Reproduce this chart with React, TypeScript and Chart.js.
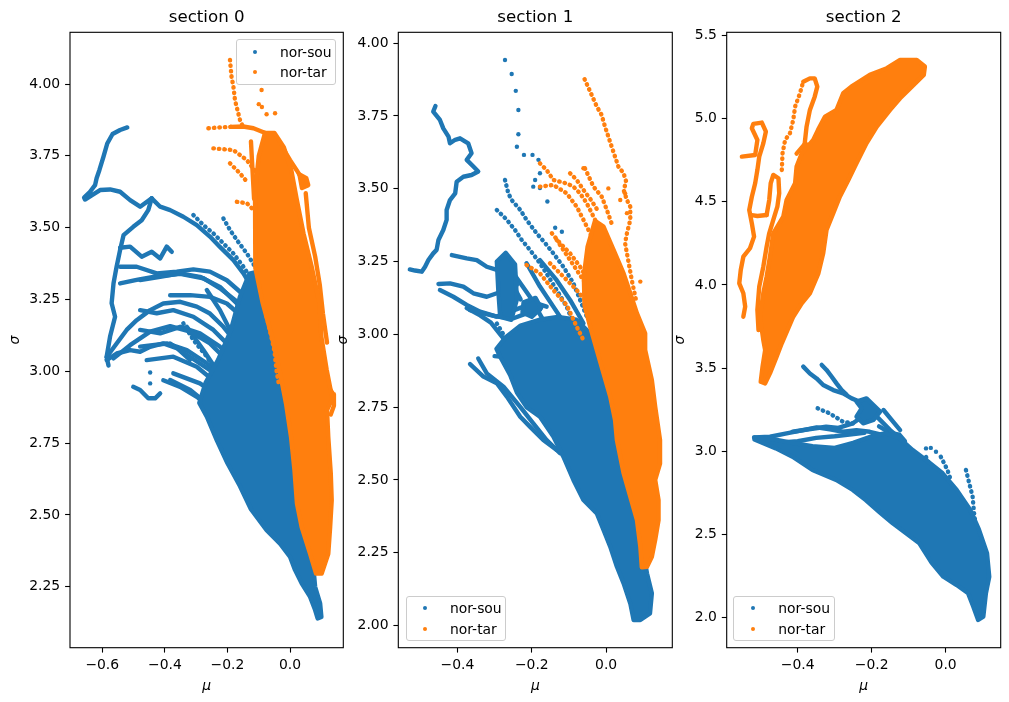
import { useEffect, useRef } from 'react';
import Chart from 'chart.js/auto';

type Pt = [number, number];
type Group = { clouds: Pt[][]; trails: Pt[][]; dotted: Pt[][]; dots: Pt[] };

const SERIES = ['nor-sou', 'nor-tar'];
const COLORS = ['#1f77b4', '#ff7f0e'];
const TITLES = ['section 0', 'section 1', 'section 2'];

const X_TICKS_0 = [-0.6, -0.4, -0.2, 0.0];
const Y_TICKS_0 = [2.25, 2.5, 2.75, 3.0, 3.25, 3.5, 3.75, 4.0];
const X_TICKS_1 = [-0.4, -0.2, 0.0];
const Y_TICKS_1 = [2.0, 2.25, 2.5, 2.75, 3.0, 3.25, 3.5, 3.75, 4.0];
const X_TICKS_2 = [-0.4, -0.2, 0.0];
const Y_TICKS_2 = [2.0, 2.5, 3.0, 3.5, 4.0, 4.5, 5.0, 5.5];

// ---------- section 0 ----------
const sec0SouClouds: Pt[][] = [
  [[-0.05, 3.30], [-0.09, 3.35], [-0.13, 3.34], [-0.16, 3.26], [-0.19, 3.14], [-0.23, 3.04], [-0.27, 2.96], [-0.29, 2.89], [-0.266, 2.842], [-0.234, 2.760], [-0.200, 2.680], [-0.160, 2.600], [-0.125, 2.520], [-0.075, 2.447], [-0.032, 2.400], [0.0, 2.354], [0.016, 2.308], [0.037, 2.262], [0.064, 2.215], [0.080, 2.169], [0.088, 2.140], [0.100, 2.145], [0.096, 2.192], [0.080, 2.250], [0.075, 2.310], [0.060, 2.450], [0.030, 2.700], [0.0, 2.950], [-0.030, 3.150]],
];
const sec0SouTrails: Pt[][] = [
  [[-0.520, 3.849], [-0.543, 3.840], [-0.567, 3.826], [-0.584, 3.793], [-0.596, 3.747], [-0.609, 3.701], [-0.618, 3.672], [-0.623, 3.648], [-0.639, 3.625], [-0.658, 3.605], [-0.655, 3.598], [-0.630, 3.615], [-0.607, 3.631], [-0.575, 3.633], [-0.543, 3.625], [-0.511, 3.596], [-0.479, 3.573], [-0.442, 3.602]],
  [[-0.442, 3.602], [-0.415, 3.573], [-0.383, 3.561], [-0.341, 3.538], [-0.298, 3.509], [-0.256, 3.469], [-0.224, 3.433], [-0.181, 3.387], [-0.149, 3.341], [-0.117, 3.283], [-0.090, 3.225], [-0.064, 3.155]],
  [[-0.442, 3.602], [-0.453, 3.561], [-0.474, 3.526], [-0.501, 3.503], [-0.532, 3.474], [-0.543, 3.422], [-0.554, 3.365], [-0.564, 3.306], [-0.570, 3.237], [-0.559, 3.190], [-0.575, 3.121], [-0.586, 3.050], [-0.580, 3.020]],
  [[-0.543, 3.430], [-0.511, 3.434], [-0.474, 3.399], [-0.442, 3.416], [-0.415, 3.393], [-0.394, 3.434], [-0.378, 3.416]],
  [[-0.543, 3.364], [-0.490, 3.364], [-0.426, 3.341], [-0.362, 3.347], [-0.309, 3.355], [-0.256, 3.347], [-0.202, 3.317], [-0.160, 3.277], [-0.128, 3.225], [-0.096, 3.155], [-0.075, 3.097]],
  [[-0.543, 3.306], [-0.490, 3.318], [-0.437, 3.329], [-0.351, 3.339], [-0.277, 3.324], [-0.224, 3.289], [-0.170, 3.243], [-0.128, 3.185], [-0.085, 3.109]],
  [[-0.383, 3.265], [-0.319, 3.265], [-0.256, 3.259], [-0.202, 3.236], [-0.160, 3.196], [-0.117, 3.132], [-0.085, 3.062]],
  [[-0.586, 3.050], [-0.554, 3.097], [-0.522, 3.144], [-0.490, 3.178], [-0.447, 3.213], [-0.405, 3.236], [-0.351, 3.242], [-0.298, 3.225], [-0.256, 3.201], [-0.213, 3.155], [-0.170, 3.097], [-0.128, 3.028], [-0.096, 2.958]],
  [[-0.564, 3.045], [-0.511, 3.091], [-0.447, 3.138], [-0.383, 3.157], [-0.319, 3.138], [-0.256, 3.097], [-0.202, 3.039], [-0.160, 2.981], [-0.122, 2.912]],
  [[-0.383, 3.097], [-0.319, 3.050], [-0.256, 3.004], [-0.213, 2.946], [-0.180, 2.890]],
  [[-0.330, 3.155], [-0.277, 3.074], [-0.234, 3.004], [-0.202, 2.935], [-0.170, 2.877]],
  [[-0.586, 3.039], [-0.554, 3.062], [-0.511, 3.074], [-0.479, 3.068], [-0.447, 3.085], [-0.405, 3.097], [-0.360, 3.080], [-0.320, 3.040]],
  [[-0.405, 2.969], [-0.351, 2.946], [-0.298, 2.911], [-0.245, 2.865], [-0.202, 2.807], [-0.160, 2.726], [-0.128, 2.645], [-0.096, 2.575]],
  [[-0.373, 2.993], [-0.288, 2.958], [-0.224, 2.911], [-0.160, 2.842], [-0.117, 2.761], [-0.075, 2.679], [-0.043, 2.587], [-0.011, 2.505]],
  [[-0.501, 2.946], [-0.479, 2.935], [-0.453, 2.906], [-0.431, 2.906], [-0.415, 2.923]],
  [[-0.479, 3.318], [-0.415, 3.329], [-0.351, 3.341], [-0.288, 3.329], [-0.224, 3.294], [-0.170, 3.236], [-0.128, 3.167], [-0.096, 3.086]],
  [[-0.479, 3.213], [-0.426, 3.202], [-0.373, 3.213], [-0.309, 3.190], [-0.245, 3.144], [-0.192, 3.086], [-0.149, 3.016], [-0.117, 2.947]],
  [[-0.479, 3.144], [-0.415, 3.132], [-0.351, 3.155], [-0.288, 3.132], [-0.224, 3.086], [-0.170, 3.016], [-0.128, 2.935], [-0.096, 2.853]],
  [[-0.479, 3.086], [-0.394, 3.097], [-0.330, 3.074], [-0.266, 3.028], [-0.213, 2.970], [-0.170, 2.900], [-0.138, 2.831], [-0.117, 2.750]],
  [[-0.458, 3.039], [-0.373, 3.051], [-0.298, 3.016], [-0.234, 2.958], [-0.192, 2.888], [-0.160, 2.807], [-0.138, 2.726]],
  [[-0.383, 2.970], [-0.319, 2.935], [-0.266, 2.888], [-0.224, 2.819], [-0.192, 2.749], [-0.170, 2.679], [-0.149, 2.610]],
  [[-0.266, 3.283], [-0.224, 3.213], [-0.181, 3.120], [-0.149, 3.028], [-0.128, 2.947]],
];
const sec0SouDotted: Pt[][] = [
  [[-0.309, 3.544], [-0.277, 3.509], [-0.245, 3.480], [-0.213, 3.445], [-0.181, 3.410], [-0.149, 3.364], [-0.122, 3.318]],
  [[-0.213, 3.532], [-0.192, 3.492], [-0.170, 3.457], [-0.138, 3.410], [-0.112, 3.364], [-0.090, 3.306], [-0.075, 3.248]],
  [[-0.341, 3.167], [-0.309, 3.109], [-0.266, 3.051], [-0.224, 2.981], [-0.192, 2.912]],
];
const sec0SouDots: Pt[] = [[-0.447, 2.996], [-0.447, 2.958]];

const sec0TarClouds: Pt[][] = [
  [[-0.08, 3.83], [-0.10, 3.75], [-0.112, 3.62], [-0.112, 3.48], [-0.110, 3.36], [-0.088, 3.24], [-0.058, 3.12], [-0.034, 3.005], [-0.013, 2.888], [0.003, 2.772], [0.014, 2.656], [0.022, 2.540], [0.037, 2.458], [0.064, 2.365], [0.083, 2.296], [0.101, 2.296], [0.122, 2.365], [0.128, 2.458], [0.133, 2.551], [0.130, 2.645], [0.122, 2.772], [0.118, 2.865], [0.135, 2.905], [0.117, 3.005], [0.100, 3.120], [0.094, 3.236], [0.069, 3.364], [0.043, 3.480], [0.021, 3.600], [0.004, 3.700], [-0.020, 3.780], [-0.050, 3.830]],
  [[0.030, 3.685], [0.052, 3.672], [0.058, 3.648], [0.038, 3.638]],
];
const sec0TarTrails: Pt[][] = [
  [[-0.190, 3.851], [-0.150, 3.852], [-0.117, 3.846], [-0.075, 3.828], [-0.032, 3.793], [0.0, 3.735], [0.021, 3.700], [0.040, 3.666]],
  [[-0.125, 3.80], [-0.120, 3.70], [-0.115, 3.60]],
  [[0.050, 3.62], [0.060, 3.50], [0.080, 3.40], [0.095, 3.30], [0.105, 3.20], [0.118, 3.10]],
  [[0.120, 2.95], [0.138, 2.92], [0.140, 2.88], [0.130, 2.85]],
];
const sec0TarDotted: Pt[][] = [
  [[-0.261, 3.846], [-0.225, 3.849], [-0.190, 3.851]],
  [[-0.192, 4.084], [-0.190, 4.060], [-0.187, 4.025], [-0.181, 3.991], [-0.176, 3.944], [-0.168, 3.909], [-0.160, 3.875], [-0.150, 3.850]],
  [[-0.245, 3.776], [-0.181, 3.770], [-0.138, 3.735], [-0.106, 3.689], [-0.075, 3.643], [-0.043, 3.596]],
  [[-0.192, 3.724], [-0.160, 3.689], [-0.138, 3.660]],
  [[-0.170, 3.590], [-0.138, 3.585], [-0.106, 3.550], [-0.075, 3.480]],
  [[-0.075, 3.190], [-0.060, 3.120], [-0.050, 3.070], [-0.043, 3.000], [-0.035, 2.950]],
];
const sec0TarDots: Pt[] = [[-0.091, 3.979], [-0.090, 3.920], [-0.075, 3.895], [-0.048, 3.898], [-0.100, 3.930]];

// ---------- section 1 ----------
const sec1SouClouds: Pt[][] = [
  [[-0.040, 3.000], [-0.080, 3.050], [-0.130, 3.060], [-0.180, 3.050], [-0.230, 3.030], [-0.270, 2.990], [-0.295, 2.950], [-0.285, 2.923], [-0.258, 2.860], [-0.240, 2.800], [-0.214, 2.750], [-0.178, 2.717], [-0.142, 2.649], [-0.115, 2.580], [-0.088, 2.500], [-0.061, 2.431], [-0.025, 2.385], [-0.007, 2.328], [0.011, 2.271], [0.029, 2.202], [0.047, 2.145], [0.065, 2.076], [0.074, 2.019], [0.092, 2.019], [0.118, 2.042], [0.123, 2.111], [0.110, 2.179], [0.100, 2.248], [0.092, 2.408], [0.056, 2.637], [0.002, 2.866]],
  [[-0.294, 3.250], [-0.270, 3.280], [-0.245, 3.240], [-0.240, 3.120], [-0.255, 3.050], [-0.285, 3.060], [-0.290, 3.150]],
  [[-0.222, 3.110], [-0.190, 3.125], [-0.175, 3.090], [-0.200, 3.060], [-0.225, 3.075]],
];
const sec1SouTrails: Pt[][] = [
  [[-0.459, 3.784], [-0.465, 3.765], [-0.447, 3.736], [-0.438, 3.707], [-0.424, 3.679], [-0.420, 3.656], [-0.406, 3.668], [-0.393, 3.673], [-0.371, 3.656], [-0.362, 3.622], [-0.375, 3.599], [-0.357, 3.576], [-0.344, 3.559], [-0.362, 3.547], [-0.384, 3.541], [-0.402, 3.524], [-0.406, 3.484], [-0.420, 3.461], [-0.429, 3.427], [-0.429, 3.393], [-0.438, 3.358], [-0.451, 3.324], [-0.456, 3.290], [-0.465, 3.278], [-0.478, 3.255], [-0.487, 3.232], [-0.496, 3.215], [-0.514, 3.219], [-0.528, 3.223]],
  [[-0.415, 3.272], [-0.375, 3.261], [-0.348, 3.255], [-0.321, 3.232], [-0.294, 3.221], [-0.281, 3.244], [-0.260, 3.200], [-0.240, 3.170]],
  [[-0.451, 3.173], [-0.420, 3.175], [-0.384, 3.164], [-0.357, 3.141], [-0.321, 3.129], [-0.294, 3.141], [-0.267, 3.152], [-0.249, 3.164], [-0.230, 3.120]],
  [[-0.447, 3.152], [-0.411, 3.129], [-0.375, 3.101], [-0.339, 3.078], [-0.294, 3.061], [-0.249, 3.055], [-0.214, 3.072], [-0.178, 3.084]],
  [[-0.375, 3.090], [-0.339, 3.065], [-0.310, 3.040], [-0.285, 3.000], [-0.260, 2.960], [-0.230, 2.920]],
  [[-0.366, 2.898], [-0.330, 2.855], [-0.294, 2.832], [-0.267, 2.786], [-0.231, 2.717], [-0.205, 2.683], [-0.169, 2.637], [-0.133, 2.603]],
  [[-0.344, 2.917], [-0.321, 2.866], [-0.276, 2.820], [-0.231, 2.751], [-0.196, 2.694], [-0.160, 2.637], [-0.124, 2.592]],
  [[-0.300, 2.925], [-0.260, 2.920], [-0.220, 2.930]],
  [[-0.366, 3.083], [-0.330, 3.072], [-0.294, 3.061], [-0.258, 3.078], [-0.222, 3.095], [-0.187, 3.106], [-0.160, 3.095]],
  [[-0.178, 3.255], [-0.133, 3.186], [-0.097, 3.118], [-0.061, 3.038]],
  [[-0.214, 3.244], [-0.178, 3.164], [-0.142, 3.095], [-0.106, 3.026]],
  [[-0.249, 3.209], [-0.205, 3.129], [-0.169, 3.049], [-0.133, 2.980]],
];
const sec1SouDotted: Pt[][] = [
  [[-0.272, 3.530], [-0.263, 3.484], [-0.254, 3.461], [-0.231, 3.427], [-0.214, 3.393], [-0.187, 3.347], [-0.164, 3.313], [-0.142, 3.278], [-0.115, 3.232], [-0.088, 3.175], [-0.070, 3.118], [-0.052, 3.061]],
  [[-0.294, 3.427], [-0.267, 3.393], [-0.245, 3.358], [-0.227, 3.324], [-0.205, 3.290], [-0.178, 3.244], [-0.155, 3.198], [-0.133, 3.152], [-0.106, 3.095], [-0.088, 3.038]],
  [[-0.294, 3.037], [-0.267, 2.980], [-0.240, 2.923], [-0.214, 2.866], [-0.187, 2.820], [-0.160, 2.774]],
];
const sec1SouDots: Pt[] = [[-0.272, 3.942], [-0.254, 3.894], [-0.243, 3.836], [-0.236, 3.770], [-0.236, 3.687], [-0.240, 3.644], [-0.221, 3.616], [-0.198, 3.616], [-0.182, 3.599], [-0.178, 3.553], [-0.191, 3.530], [-0.196, 3.507], [-0.178, 3.502], [-0.158, 3.456], [-0.137, 3.366], [-0.119, 3.352]];

const sec1TarClouds: Pt[][] = [
  [[-0.030, 3.390], [-0.007, 3.370], [0.020, 3.290], [0.047, 3.209], [0.065, 3.141], [0.083, 3.072], [0.105, 3.003], [0.105, 2.946], [0.123, 2.843], [0.132, 2.751], [0.145, 2.637], [0.145, 2.556], [0.132, 2.500], [0.141, 2.431], [0.141, 2.362], [0.132, 2.294], [0.123, 2.236], [0.110, 2.202], [0.096, 2.200], [0.092, 2.271], [0.083, 2.362], [0.065, 2.443], [0.047, 2.523], [0.029, 2.637], [0.024, 2.706], [0.011, 2.786], [-0.007, 2.866], [-0.025, 2.946], [-0.043, 3.026], [-0.058, 3.100], [-0.060, 3.200], [-0.050, 3.300]],
];
const sec1TarTrails: Pt[][] = [];
const sec1TarDotted: Pt[][] = [
  [[-0.058, 3.876], [-0.048, 3.848], [-0.039, 3.822], [-0.025, 3.782], [-0.012, 3.753], [-0.003, 3.713], [0.006, 3.679], [0.015, 3.644], [0.024, 3.610], [0.033, 3.576], [0.047, 3.553], [0.054, 3.524], [0.047, 3.496], [0.056, 3.461], [0.065, 3.438], [0.065, 3.393], [0.056, 3.347], [0.051, 3.313], [0.060, 3.250], [0.070, 3.180], [0.080, 3.120]],
  [[-0.178, 3.587], [-0.160, 3.564], [-0.142, 3.530], [-0.124, 3.524], [-0.106, 3.518], [-0.088, 3.507], [-0.070, 3.484], [-0.052, 3.450], [-0.034, 3.404], [-0.016, 3.358], [0.002, 3.301], [0.020, 3.244], [0.038, 3.175]],
  [[-0.178, 3.507], [-0.142, 3.513], [-0.106, 3.484], [-0.079, 3.438], [-0.061, 3.393], [-0.043, 3.347], [-0.025, 3.301], [-0.007, 3.244], [0.002, 3.187]],
  [[-0.097, 3.553], [-0.079, 3.530], [-0.061, 3.496], [-0.040, 3.460], [-0.020, 3.420]],
  [[-0.057, 3.570], [-0.034, 3.507], [-0.012, 3.473], [0.002, 3.427], [0.015, 3.380]],
  [[-0.214, 3.238], [-0.178, 3.209], [-0.142, 3.152], [-0.106, 3.100], [-0.079, 3.026], [-0.061, 2.980]],
  [[-0.146, 3.347], [-0.124, 3.313], [-0.097, 3.278], [-0.070, 3.232], [-0.043, 3.175], [-0.025, 3.118]],
  [[-0.151, 3.244], [-0.115, 3.198], [-0.079, 3.152], [-0.043, 3.095], [-0.025, 3.049]],
  [[-0.133, 3.324], [-0.097, 3.255], [-0.061, 3.186], [-0.034, 3.118]],
];
const sec1TarDots: Pt[] = [[-0.061, 3.570], [0.006, 3.501], [0.051, 3.484], [0.038, 3.461], [0.056, 3.416], [0.092, 3.181]];

// ---------- section 2 ----------
const sec2SouClouds: Pt[][] = [
  [[-0.517, 3.083], [-0.460, 3.070], [-0.414, 3.050], [-0.360, 3.030], [-0.300, 3.020], [-0.250, 3.050], [-0.200, 3.090], [-0.162, 3.108], [-0.125, 3.078], [-0.089, 3.007], [-0.053, 2.947], [-0.008, 2.867], [0.030, 2.767], [0.066, 2.650], [0.090, 2.530], [0.112, 2.386], [0.118, 2.245], [0.109, 2.145], [0.102, 2.005], [0.088, 1.985], [0.075, 2.065], [0.061, 2.145], [0.030, 2.195], [-0.006, 2.245], [-0.038, 2.330], [-0.071, 2.446], [-0.107, 2.506], [-0.143, 2.566], [-0.180, 2.636], [-0.216, 2.706], [-0.251, 2.767], [-0.296, 2.827], [-0.360, 2.887], [-0.414, 2.967], [-0.459, 3.017], [-0.517, 3.071]],
  [[-0.241, 3.298], [-0.214, 3.318], [-0.191, 3.268], [-0.177, 3.238], [-0.195, 3.188], [-0.223, 3.168], [-0.241, 3.208], [-0.227, 3.258]],
];
const sec2SouTrails: Pt[][] = [
  [[-0.385, 3.509], [-0.367, 3.468], [-0.349, 3.438], [-0.331, 3.398], [-0.304, 3.368], [-0.277, 3.348], [-0.254, 3.318], [-0.232, 3.298]],
  [[-0.335, 3.519], [-0.322, 3.489], [-0.308, 3.448], [-0.295, 3.408], [-0.281, 3.368], [-0.268, 3.340]],
  [[-0.186, 3.208], [-0.150, 3.127], [-0.123, 3.077], [-0.105, 3.027]],
  [[-0.168, 3.248], [-0.146, 3.188], [-0.123, 3.127]],
  [[-0.518, 3.083], [-0.475, 3.087], [-0.430, 3.107], [-0.385, 3.127], [-0.349, 3.143], [-0.313, 3.131], [-0.277, 3.117], [-0.241, 3.127], [-0.205, 3.117], [-0.168, 3.097], [-0.132, 3.067]],
  [[-0.414, 3.117], [-0.370, 3.132], [-0.323, 3.147], [-0.290, 3.140], [-0.251, 3.168], [-0.230, 3.200]],
  [[-0.460, 3.050], [-0.400, 3.060], [-0.350, 3.080], [-0.300, 3.090], [-0.260, 3.100], [-0.220, 3.110]],
  [[-0.180, 3.150], [-0.150, 3.110], [-0.125, 3.100], [-0.110, 3.060]],
];
const sec2SouDotted: Pt[][] = [
  [[-0.346, 3.258], [-0.314, 3.228], [-0.278, 3.178], [-0.251, 3.168]],
  [[-0.053, 2.965], [-0.040, 2.905], [-0.017, 2.845], [0.001, 2.785], [0.019, 2.705], [0.037, 2.645], [0.055, 2.585], [0.077, 2.505], [0.091, 2.425]],
  [[-0.013, 2.967], [-0.004, 2.927], [0.005, 2.887], [0.015, 2.820]],
  [[0.055, 2.887], [0.064, 2.807], [0.073, 2.727], [0.077, 2.626], [0.082, 2.546]],
];
const sec2SouDots: Pt[] = [[-0.053, 3.017], [-0.026, 2.997], [-0.040, 3.020]];

const sec2TarClouds: Pt[][] = [
  [[-0.500, 3.418], [-0.495, 3.509], [-0.488, 3.609], [-0.493, 3.669], [-0.502, 3.809], [-0.493, 3.950], [-0.484, 4.050], [-0.475, 4.170], [-0.466, 4.311], [-0.439, 4.411], [-0.430, 4.511], [-0.407, 4.612], [-0.403, 4.712], [-0.389, 4.792], [-0.358, 4.872], [-0.345, 4.933], [-0.326, 5.013], [-0.295, 5.053], [-0.277, 5.153], [-0.255, 5.193], [-0.205, 5.264], [-0.159, 5.304], [-0.123, 5.354], [-0.078, 5.354], [-0.056, 5.314], [-0.059, 5.264], [-0.096, 5.183], [-0.123, 5.123], [-0.150, 5.053], [-0.186, 4.953], [-0.214, 4.852], [-0.241, 4.732], [-0.263, 4.632], [-0.286, 4.531], [-0.304, 4.431], [-0.322, 4.331], [-0.331, 4.191], [-0.344, 4.070], [-0.367, 3.950], [-0.389, 3.890], [-0.412, 3.809], [-0.443, 3.649], [-0.457, 3.569], [-0.475, 3.468], [-0.488, 3.408]],
];
const sec2TarTrails: Pt[][] = [
  [[-0.547, 3.809], [-0.542, 3.870], [-0.547, 3.950], [-0.558, 4.010], [-0.554, 4.090], [-0.547, 4.170], [-0.529, 4.221], [-0.518, 4.291], [-0.524, 4.371], [-0.531, 4.451], [-0.524, 4.531], [-0.515, 4.612], [-0.509, 4.692], [-0.504, 4.772], [-0.493, 4.852], [-0.486, 4.923], [-0.497, 4.977], [-0.520, 4.969], [-0.524, 4.943], [-0.509, 4.872], [-0.515, 4.782], [-0.551, 4.772]],
  [[-0.524, 4.420], [-0.509, 4.415], [-0.484, 4.421]],
  [[-0.484, 4.421], [-0.477, 4.511], [-0.473, 4.612], [-0.466, 4.662], [-0.452, 4.642], [-0.450, 4.552], [-0.455, 4.471], [-0.466, 4.391], [-0.477, 4.311], [-0.484, 4.231], [-0.493, 4.110], [-0.504, 3.990], [-0.509, 3.850], [-0.506, 3.729]],
  [[-0.385, 5.223], [-0.367, 5.243], [-0.354, 5.243], [-0.347, 5.193], [-0.354, 5.133], [-0.367, 5.053], [-0.376, 4.953], [-0.380, 4.872], [-0.385, 4.772], [-0.394, 4.712]],
  [[-0.403, 4.790], [-0.380, 4.850], [-0.360, 4.830], [-0.355, 4.780]],
];
const sec2TarDotted: Pt[][] = [
  [[-0.443, 4.692], [-0.441, 4.792], [-0.434, 4.872], [-0.421, 4.913], [-0.412, 4.993], [-0.407, 5.073], [-0.394, 5.153], [-0.385, 5.223]],
];
const sec2TarDots: Pt[] = [];

// ---------- layout of the three panels ----------
const FONT = 'DejaVu Sans';
const PANELS = [
  {
    left: 0, width: 370, yWidth: 70, padRight: 26.7, yTitlePad: 6.7, yDec: 2,
    xMin: -0.703, xMax: 0.17, yMin: 2.038, yMax: 4.18, xTicks: X_TICKS_0, yTicks: Y_TICKS_0,
    sou: { clouds: sec0SouClouds, trails: sec0SouTrails, dotted: sec0SouDotted, dots: sec0SouDots },
    tar: { clouds: sec0TarClouds, trails: sec0TarTrails, dotted: sec0TarDotted, dots: sec0TarDots },
    legend: { left: 235.7, top: 39.3, width: 100.3, height: 45.7, markX: 255.3, textX: 280, rows: [51.7, 72.3] },
  },
  {
    left: 330, width: 360, yWidth: 68.3, padRight: 17.7, yTitlePad: 5.0, yDec: 2,
    xMin: -0.559, xMax: 0.178, yMin: 1.924, yMax: 4.037, xTicks: X_TICKS_1, yTicks: Y_TICKS_1,
    sou: { clouds: sec1SouClouds, trails: sec1SouTrails, dotted: sec1SouDotted, dots: sec1SouDots },
    tar: { clouds: sec1TarClouds, trails: sec1TarTrails, dotted: sec1TarDotted, dots: sec1TarDots },
    legend: { left: 405.7, top: 595.7, width: 100.6, height: 45.3, markX: 425.3, textX: 450, rows: [607.7, 628.7] },
  },
  {
    left: 660, width: 349, yWidth: 66.7, padRight: 8.3, yTitlePad: 12.4, yDec: 1,
    xMin: -0.592, xMax: 0.149, yMin: 1.818, yMax: 5.52, xTicks: X_TICKS_2, yTicks: Y_TICKS_2,
    sou: { clouds: sec2SouClouds, trails: sec2SouTrails, dotted: sec2SouDotted, dots: sec2SouDots },
    tar: { clouds: sec2TarClouds, trails: sec2TarTrails, dotted: sec2TarDotted, dots: sec2TarDots },
    legend: { left: 733.3, top: 595.7, width: 101.7, height: 45.3, markX: 753.3, textX: 778.3, rows: [607.7, 628.7] },
  },
];

const fmt = (v: number, d: number) => (v < -1e-9 ? '\u2212' : '') + Math.abs(v).toFixed(d);
const xy = (pts: Pt[]) => pts.map(([x, y]) => ({ x, y }));
const DOT = 4.4;

function datasetsFor(g: Group, color: string, order: number) {
  const out: any[] = [];
  const line = {
    borderColor: color, backgroundColor: color, borderWidth: DOT, pointRadius: 0,
    borderCapStyle: 'round', borderJoinStyle: 'round', showLine: true, order,
  };
  g.clouds.forEach((c) => out.push({ ...line, data: xy([...c, c[0]]), fill: 'shape' }));
  g.trails.forEach((t) => out.push({ ...line, data: xy(t), fill: false }));
  g.dotted.forEach((t) => out.push({ ...line, data: xy(t), fill: false, borderDash: [0.5, 5] }));
  if (g.dots.length) {
    out.push({ data: xy(g.dots), showLine: false, pointRadius: DOT / 2, pointBorderWidth: 0, backgroundColor: color, borderColor: color, order });
  }
  return out;
}

const framePlugin = {
  id: 'frame',
  afterDatasetsDraw(chart: any) {
    const { ctx, chartArea: a } = chart;
    ctx.save();
    ctx.strokeStyle = '#000';
    ctx.lineWidth = 1.1;
    ctx.strokeRect(a.left, a.top, a.right - a.left, a.bottom - a.top);
    ctx.restore();
  },
};

function Panel({ idx }: { idx: number }) {
  const chartRef = useRef<HTMLCanvasElement>(null);
  const p = PANELS[idx];

  useEffect(() => {
    if (!chartRef.current) return;
    const tickFont = { family: FONT, size: 13.9 };
    const axisTitleFont = { family: FONT, size: 13.9, style: 'italic' as const };
    const grid = { display: true, drawOnChartArea: false, drawTicks: true, tickLength: 4.9, tickWidth: 1.1, tickColor: '#000' };

    const chart = new Chart(chartRef.current, {
      type: 'scatter',
      data: {
        datasets: [...datasetsFor(p.tar, COLORS[1], 1), ...datasetsFor(p.sou, COLORS[0], 2)],
      },
      options: {
        animation: false,
        responsive: false,
        events: [],
        layout: { autoPadding: false, padding: { left: 0, top: 0, bottom: 0, right: p.padRight } },
        plugins: {
          legend: { display: false },
          tooltip: { enabled: false },
          title: {
            display: true,
            text: TITLES[idx],
            fullSize: false,
            color: '#000',
            font: { family: FONT, size: 16.67, weight: 'normal' },
            padding: { top: 8, bottom: 4.3 },
          },
        },
        scales: {
          x: {
            type: 'linear',
            min: p.xMin,
            max: p.xMax,
            afterBuildTicks: (s: any) => { s.ticks = p.xTicks.map((v) => ({ value: v })); },
            afterFit: (s: any) => { s.height = 54.3; },
            ticks: { font: tickFont, color: '#000', padding: 4.9, maxRotation: 0, autoSkip: false, callback: (v: any) => fmt(Number(v), 1) },
            grid,
            border: { display: false },
            title: { display: true, text: 'μ', color: '#000', font: axisTitleFont, padding: { top: 0, bottom: 7.7 } },
          },
          y: {
            type: 'linear',
            min: p.yMin,
            max: p.yMax,
            afterBuildTicks: (s: any) => { s.ticks = p.yTicks.map((v) => ({ value: v })); },
            afterFit: (s: any) => { s.width = p.yWidth; },
            ticks: { font: tickFont, color: '#000', padding: 4.9, autoSkip: false, callback: (v: any) => fmt(Number(v), p.yDec) },
            grid,
            border: { display: false },
            title: { display: true, text: 'σ', color: '#000', font: axisTitleFont, padding: { top: p.yTitlePad, bottom: 0 } },
          },
        },
      } as any,
      plugins: [framePlugin],
    });

    return () => chart.destroy();
  }, [idx]);

  const lg = p.legend;
  return (
    <>
      <canvas
        ref={chartRef}
        width={p.width}
        height={702}
        style={{ position: 'absolute', left: p.left, top: 0, width: p.width, height: 702 }}
      />
      <div
        style={{
          position: 'absolute', left: lg.left, top: lg.top, width: lg.width, height: lg.height,
          boxSizing: 'border-box', border: '1px solid #cccccc', borderRadius: 3,
          background: 'rgba(255,255,255,0.8)',
        }}
      />
      {SERIES.map((name, i) => (
        <div key={name}>
          <span
            style={{
              position: 'absolute', left: lg.markX - DOT / 2, top: lg.rows[i] - DOT / 2,
              width: DOT, height: DOT, borderRadius: '50%', background: COLORS[i],
            }}
          />
          <span
            style={{
              position: 'absolute', left: lg.textX, top: lg.rows[i] - 9, height: 18, lineHeight: '18px',
              fontFamily: FONT, fontSize: 13.9, color: '#000', whiteSpace: 'nowrap',
            }}
          >
            {name}
          </span>
        </div>
      ))}
    </>
  );
}

export default function App() {
  return (
    <div style={{ position: 'fixed', left: 0, top: 0, width: 1009, height: 702, background: '#fff', overflow: 'hidden' }}>
      {PANELS.map((_, i) => (
        <Panel key={i} idx={i} />
      ))}
    </div>
  );
}
